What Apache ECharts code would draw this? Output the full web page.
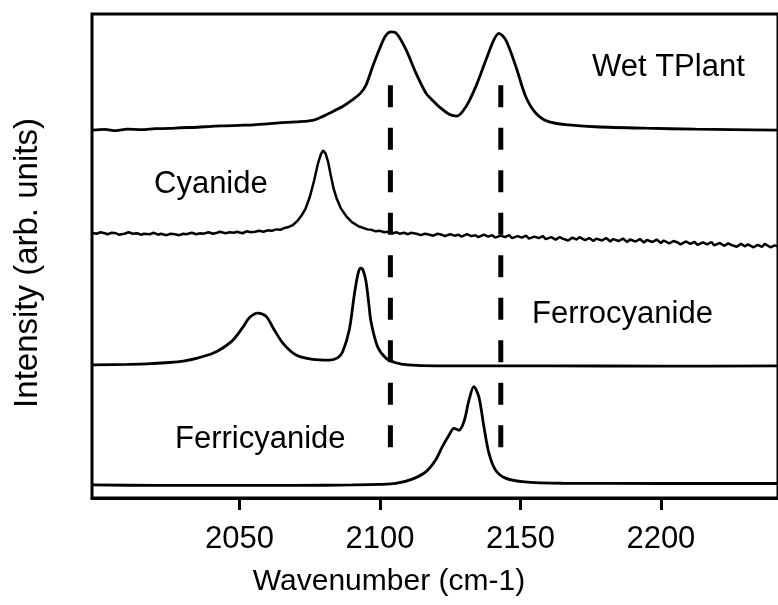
<!DOCTYPE html>
<html>
<head>
<meta charset="utf-8">
<script src="https://cdn.jsdelivr.net/npm/echarts@6/dist/echarts.min.js"></script>
<style>
html,body{margin:0;padding:0;background:#fff;}
#chart{width:778px;height:605px;}
</style>
</head>
<body>
<div id="chart"></div>
<script>
// ---- data (wavenumber, intensity in arbitrary offset units) ----
var xTicks = [2050, 2100, 2150, 2200];
var peakMarkers = [2103.7, 2143.0];
var markerRange = [85.3, 10.3];

var wetTPlant = [
  [1997.5,76.0],[2002,76.15],[2006,75.9],[2010,76.2],[2015,76.1],[2020,76.3],[2025,76.35],[2029,76.5],
  [2035,76.6],[2040,76.8],[2045,76.9],[2050,77.0],[2055,77.1],[2060,77.3],[2064,77.5],[2070,77.7],
  [2076,78.0],[2079.5,78.8],[2084.4,80.2],[2087,81.0],[2090,82.2],[2093,83.6],[2095,85.3],[2097.3,89.0],
  [2099.7,92.6],[2102,95.5],[2104,96.3],[2106,95.9],[2109.3,92.6],[2112.8,87.8],[2116.4,83.6],[2118.5,82.3],
  [2121,80.85],[2124.6,79.3],[2127.4,78.9],[2130.6,80.85],[2134.1,85.0],[2137.7,90.5],[2140.5,94.6],
  [2142.3,96.0],[2144.8,94.6],[2148.4,89.1],[2151.9,82.9],[2155.5,79.5],[2160,77.75],[2167.2,77.07],
  [2176.8,76.7],[2194.5,76.4],[2212.3,76.2],[2242,76.0]
];

var cyanide = [
  [1997.5,54.8],[1999,54.6],[2000.5,54.9],[2002,54.7],[2003,54.5],[2004.5,54.8],[2006,54.7],[2007,54.4],
  [2009,54.6],[2010.5,54.9],[2012,54.6],[2013.5,54.7],[2015,54.4],[2016,54.6],[2018,54.5],[2019.5,54.8],
  [2021,54.4],[2022,54.6],[2024,54.3],[2025.5,54.6],[2027,54.5],[2028.5,54.3],[2030,54.6],[2031,54.5],
  [2033,54.8],[2034.5,54.5],[2036,54.7],[2037,54.6],[2039,54.9],[2040.5,54.6],[2042,54.8],[2043,55.0],
  [2045,54.7],[2046.5,54.9],[2048,54.8],[2049,55.0],[2051,54.7],[2052.5,55.1],[2054,54.9],[2055.5,55.0],
  [2057,55.2],[2058.5,55.0],[2060,55.3],[2061.5,55.2],[2063,55.5],[2064.5,55.4],[2066,55.8],[2067.5,56.0],
  [2069,56.4],[2070.5,57.2],[2072,58.3],[2073.5,59.8],[2075,62.2],[2076.5,65.5],[2078,69.3],[2079,71.1],
  [2079.8,71.8],[2080.6,71.2],[2081.5,69.5],[2082.5,66.6],[2083.5,63.9],[2084.5,62.0],[2086,59.9],
  [2088,58.2],[2090,57.0],[2092.5,56.1],[2094,55.8],[2095.5,55.5],[2097,55.4],[2098.5,55.1],[2100,55.2],
  [2101.5,54.9],[2103,55.0],[2104.5,54.7],[2106,54.9],[2107,54.6],[2108.5,54.8],[2110,54.5],[2111,54.8],
  [2113,54.6],[2114.5,54.3],[2116,54.6],[2117,54.5],[2119,54.2],[2120.5,54.6],[2122,54.4],[2123,54.1],
  [2125,54.5],[2126.5,54.2],[2128,54.4],[2129,54.0],[2131,54.5],[2132.5,54.1],[2134,54.3],[2135,53.9],
  [2137,54.4],[2138.5,54.0],[2140,54.3],[2141,53.8],[2143,54.2],[2144.5,53.9],[2146,54.3],[2147,53.7],
  [2149,54.1],[2150.5,53.8],[2152,54.2],[2153,53.6],[2155,54.0],[2156.5,53.7],[2158,54.1],[2159,53.5],
  [2161,53.9],[2162.5,53.4],[2164,53.9],[2165,53.6],[2167,53.2],[2168.5,53.8],[2170,53.4],[2171,53.9],
  [2173,53.3],[2174.5,53.7],[2176,53.1],[2177,53.6],[2179,53.2],[2180.5,53.7],[2182,53.0],[2183,53.5],
  [2185,53.1],[2186.5,53.6],[2188,52.9],[2189,53.4],[2191,53.0],[2192.5,53.5],[2194,52.8],[2195,53.3],
  [2197,52.9],[2198.5,53.4],[2200,52.7],[2201,53.2],[2203,52.6],[2204.5,53.1],[2206,52.8],[2207,52.4],
  [2209,53.0],[2210.5,52.5],[2212,52.9],[2213,52.3],[2215,52.8],[2216.5,52.4],[2218,52.9],[2219,52.2],
  [2221,52.7],[2222.5,52.1],[2224,52.6],[2225,52.3],[2227,51.9],[2228.5,52.5],[2230,52.0],[2231,52.4],
  [2233,51.8],[2234.5,52.3],[2236,51.9],[2237,52.5],[2239,51.8],[2240.5,52.2],[2242,51.9]
];

var ferrocyanide = [
  [1997.5,27.5],[2010,27.6],[2017,27.7],[2025,28.0],[2030,28.3],[2035,28.9],[2040.5,29.9],[2044,31.0],
  [2047.6,32.6],[2051.2,35.3],[2053.55,37.3],[2056.5,38.2],[2059.5,37.5],[2061.8,35.3],[2065.4,32.0],
  [2070.1,29.55],[2076,28.66],[2082,28.5],[2085,29.0],[2086.7,30.2],[2089.05,34.7],[2090.8,41.8],
  [2091.8,45.3],[2092.5,47.0],[2093.2,47.5],[2094,47.0],[2095,44.8],[2096,40.2],[2096.8,36.4],
  [2099.1,31.3],[2102.1,28.9],[2105.6,27.95],[2110,27.5],[2120,27.3],[2160,27.3],[2200,27.25],[2242,27.3]
];

var ferricyanide = [
  [1997.5,2.7],[2020,2.6],[2050,2.6],[2070,2.6],[2090,2.7],[2100,2.8],[2105.6,3.0],[2111.5,3.9],
  [2116.3,5.4],[2119.8,7.85],[2122.2,10.6],[2124.6,13.0],[2126.3,14.4],[2128.1,14.0],[2129.9,15.8],
  [2131.7,20.25],[2133.4,23.0],[2135.2,20.9],[2137,14.7],[2138.8,9.2],[2141.1,5.8],[2144.7,4.1],
  [2150.6,3.4],[2164.8,3.05],[2200,3.0],[2242,3.0]
];

var traceNames = ['Wet TPlant', 'Cyanide', 'Ferrocyanide', 'Ferricyanide'];
var xTitle = 'Wavenumber (cm-1)';
var yTitle = 'Intensity (arb. units)';

// ---- chart ----
var FONT = '"Liberation Sans", Arial, Helvetica, sans-serif';
var chart = echarts.init(document.getElementById('chart'), null, {renderer: 'canvas'});

function trace(name, data, smooth, width) {
  return {
    name: name, type: 'line', data: data, showSymbol: false, symbol: 'none',
    smooth: smooth, lineStyle: {color: '#000', width: width}, silent: true, animation: false, z: 3
  };
}
function marker(x) {
  return {
    type: 'line', data: [[x, markerRange[0]], [x, markerRange[1]]], showSymbol: false, symbol: 'none',
    lineStyle: {color: '#000', width: 5, type: [22, 20.5], cap: 'butt'}, silent: true, animation: false, z: 4
  };
}

var option = {
  backgroundColor: '#fff',
  animation: false,
  grid: {left: 92, top: 14, width: 688, height: 484, show: true, borderColor: '#000', borderWidth: 3,
         backgroundColor: 'transparent'},
  xAxis: {
    type: 'value', min: 1997.46, max: 2241.7,
    axisLine: {show: true, lineStyle: {color: '#000', width: 3}},
    axisTick: {show: true, inside: false, length: 12, lineStyle: {color: '#000', width: 3}, customValues: xTicks},
    axisLabel: {show: true, color: '#000', fontSize: 31, fontFamily: FONT, margin: 26, customValues: xTicks,
                formatter: function (v) { return String(v); }},
    splitLine: {show: false}
  },
  yAxis: {
    type: 'value', min: 0, max: 100,
    axisLine: {show: false}, axisTick: {show: false}, axisLabel: {show: false}, splitLine: {show: false}
  },
  series: [
    trace(traceNames[0], wetTPlant, 0.3, 2.8),
    trace(traceNames[1], cyanide, false, 2.5),
    trace(traceNames[2], ferrocyanide, 0.3, 2.8),
    trace(traceNames[3], ferricyanide, 0.3, 2.8),
    marker(peakMarkers[0]),
    marker(peakMarkers[1])
  ],
  graphic: [
    {type: 'text', left: 592, top: 52, style: {text: traceNames[0], font: '31px ' + FONT, fill: '#000'}},
    {type: 'text', left: 154, top: 169, style: {text: traceNames[1], font: '31px ' + FONT, fill: '#000'}},
    {type: 'text', left: 532, top: 299, style: {text: traceNames[2], font: '31px ' + FONT, fill: '#000'}},
    {type: 'text', left: 175, top: 424, style: {text: traceNames[3], font: '31px ' + FONT, fill: '#000'}},
    {type: 'text', left: 'center', top: 567, style: {text: xTitle, font: '30px ' + FONT, fill: '#000'}},
    {type: 'text', rotation: Math.PI / 2, x: 11, y: 263,
     style: {text: yTitle, font: '33px ' + FONT, fill: '#000', align: 'center', verticalAlign: 'top'}}
  ]
};
chart.setOption(option);
</script>
</body>
</html>
